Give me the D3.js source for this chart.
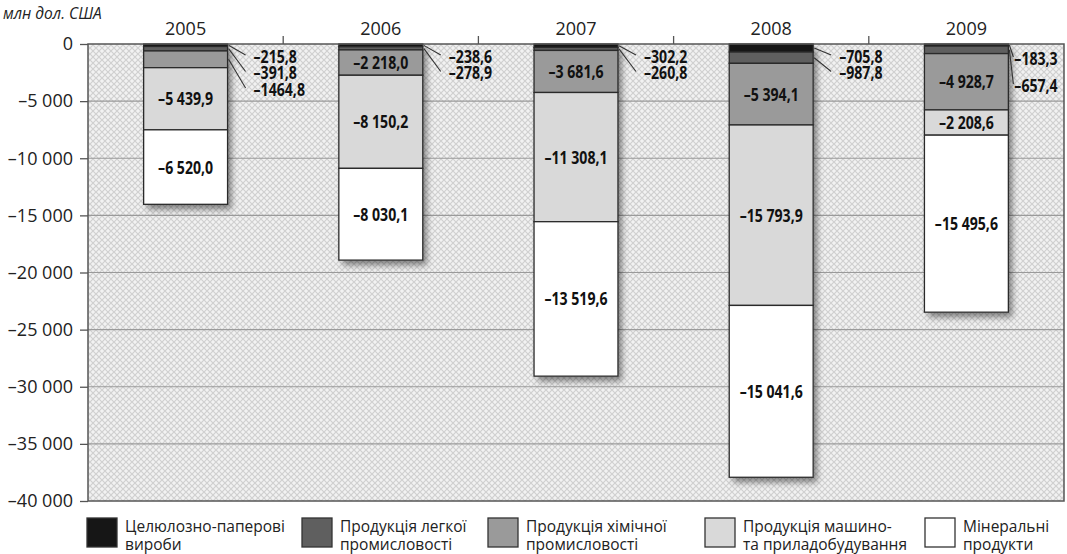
<!DOCTYPE html>
<html>
<head>
<meta charset="utf-8">
<script src="https://cdn.jsdelivr.net/npm/d3@7"></script>
<style>
  html, body { margin: 0; padding: 0; background: #fff; }
  svg { display: block; font-family: "Open Sans", "DejaVu Sans", sans-serif; }
</style>
</head>
<body>
<svg id="chart" width="1067" height="554"></svg>
<script>
// Trade balance by commodity group, mln USD
const years = ["2005", "2006", "2007", "2008", "2009"];
const pulpPaper     = [-215.8, -238.6, -302.2, -705.8, -183.3];
const lightIndustry = [-391.8, -278.9, -260.8, -987.8, -657.4];
const chemical      = [-1464.8, -2218.0, -3681.6, -5394.1, -4928.7];
const machinery     = [-5439.9, -8150.2, -11308.1, -15793.9, -2208.6];
const minerals      = [-6520.0, -8030.1, -13519.6, -15041.6, -15495.6];

const seriesKeys = ["pulpPaper", "lightIndustry", "chemical", "machinery", "minerals"];
const seriesNames = [
  ["Целюлозно-паперові", "вироби"],
  ["Продукція легкої", "промисловості"],
  ["Продукція хімічної", "промисловості"],
  ["Продукція машино-", "та приладобудування"],
  ["Мінеральні", "продукти"]
];
const yTicks = [0, -5000, -10000, -15000, -20000, -25000, -30000, -35000, -40000];
const unitLabel = "млн дол. США";

const seriesColors = ["#161616", "#5f5f5f", "#9a9a9a", "#d9d9d9", "#ffffff"];

// Build table for the stack
const table = years.map((y, i) => ({
  year: y,
  pulpPaper: pulpPaper[i],
  lightIndustry: lightIndustry[i],
  chemical: chemical[i],
  machinery: machinery[i],
  minerals: minerals[i]
}));

const svg = d3.select("#chart");
const margin = { left: 88, right: 3, top: 44, bottom: 53 };
const W = 1067, H = 554;
const plotL = margin.left, plotR = W - margin.right, plotT = margin.top, plotB = H - margin.bottom;

const x = d3.scaleBand().domain(years).range([plotL, plotR]).paddingInner(0.57).paddingOuter(0.285);
const y = d3.scaleLinear().domain([0, -40000]).range([plotT, plotB]);

const loc = d3.formatLocale({ decimal: ",", thousands: " ", grouping: [3], currency: ["", ""], minus: "\u2013" });
const fmtIn = loc.format(",.1f");
const fmtOut = loc.format(".1f");
const fmtAxis = loc.format(",d");

// Condensed bold value text: drawn at origin, then moved and narrowed
const condensed = 0.83;

// Background crosshatch
const defs = svg.append("defs");
const pat = defs.append("pattern").attr("id", "hatch").attr("patternUnits", "userSpaceOnUse")
  .attr("width", 6).attr("height", 6);
pat.append("rect").attr("width", 6).attr("height", 6).attr("fill", "#f2f2f2");
pat.append("path").attr("d", "M0,0 L6,6 M6,0 L0,6").attr("stroke", "#d0d0d0").attr("stroke-width", 1.2);

const shadow = defs.append("filter").attr("id", "shadow").attr("x", "-20%").attr("y", "-20%").attr("width", "150%").attr("height", "150%");
shadow.append("feDropShadow").attr("dx", 4).attr("dy", 5).attr("stdDeviation", 3)
  .attr("flood-color", "#000").attr("flood-opacity", 0.45);

svg.append("rect").attr("x", plotL).attr("y", plotT).attr("width", plotR - plotL).attr("height", plotB - plotT)
  .attr("fill", "url(#hatch)");

// Gridlines
svg.append("g").selectAll("line").data(yTicks.slice(1, -1)).join("line")
  .attr("x1", plotL).attr("x2", plotR)
  .attr("y1", d => y(d)).attr("y2", d => y(d))
  .attr("stroke", "#9a9a9a").attr("stroke-width", 1.2);

// Y axis
const yAxis = d3.axisLeft(y).tickValues(yTicks).tickSize(8).tickPadding(7)
  .tickFormat(d => d === 0 ? "0" : fmtAxis(d));
const gy = svg.append("g").attr("transform", `translate(${plotL},0)`).call(yAxis);
gy.select(".domain").remove();
gy.selectAll(".tick line").attr("stroke", "#555").attr("stroke-width", 1.3);
gy.selectAll(".tick text").attr("font-size", 18).attr("fill", "#222")
  .attr("font-family", "'Open Sans', sans-serif");

// Top axis with year labels; ticks sit at band boundaries
const boundaries = years.slice(1).map(yr => x(yr) - x.step() * x.paddingInner() / 2);
svg.append("g").selectAll("line").data(boundaries).join("line")
  .attr("x1", d => d).attr("x2", d => d).attr("y1", plotT - 8).attr("y2", plotT)
  .attr("stroke", "#555").attr("stroke-width", 1.3);
svg.append("g").selectAll("text").data(years).join("text")
  .attr("x", d => x(d) + x.bandwidth() / 2).attr("y", plotT - 9)
  .attr("text-anchor", "middle").attr("font-size", 18).attr("fill", "#222")
  .text(d => d);

// Stacked bars (negative values stack downward from zero)
const stack = d3.stack().keys(seriesKeys).offset(d3.stackOffsetDiverging);
const layers = stack(table);

const barsG = svg.append("g");
// Shadow under each full bar
barsG.selectAll("rect.sh").data(table).join("rect").attr("class", "sh")
  .attr("x", d => x(d.year)).attr("width", x.bandwidth())
  .attr("y", y(0))
  .attr("height", d => y(seriesKeys.reduce((s, k) => s + d[k], 0)) - y(0))
  .attr("fill", "#fff").attr("filter", "url(#shadow)");

layers.forEach((layer, li) => {
  barsG.append("g").selectAll("rect").data(layer).join("rect")
    .attr("x", d => x(d.data.year)).attr("width", x.bandwidth())
    .attr("y", d => Math.min(y(d[0]), y(d[1])))
    .attr("height", d => Math.abs(y(d[0]) - y(d[1])))
    .attr("fill", seriesColors[li])
    .attr("stroke", "#2a2a2a").attr("stroke-width", 1.3);
});

// Value labels
const labelLayout = { "2009": { dx: 6, y0: 58, step: 27 } };
const insideG = svg.append("g");
const outsideG = svg.append("g");
years.forEach((yr, i) => {
  let outIdx = 0;
  const lay = labelLayout[yr] || { dx: 26, y0: 56, step: 16.5 };
  layers.forEach((layer, li) => {
    const d = layer[i];
    const v = d.data[seriesKeys[li]];
    const top = Math.min(y(d[0]), y(d[1])), bot = Math.max(y(d[0]), y(d[1]));
    const h = bot - top;
    const cx = x(yr) + x.bandwidth() / 2;
    if (h >= 20) {
      insideG.append("text")
        .attr("transform", `translate(${cx},${(top + bot) / 2}) scale(${condensed},1)`)
        .attr("text-anchor", "middle").attr("dominant-baseline", "central")
        .attr("font-size", 17).attr("font-weight", "bold").attr("fill", "#111")
        .text(fmtIn(v));
    } else {
      const right = x(yr) + x.bandwidth();
      const lx = right + lay.dx;
      const ly = lay.y0 + lay.step * outIdx;
      outsideG.append("line")
        .attr("x1", right + 1).attr("y1", (top + bot) / 2)
        .attr("x2", lx - (lay.dx > 10 ? 8 : 1)).attr("y2", ly - 1)
        .attr("stroke", "#333").attr("stroke-width", 1.1);
      outsideG.append("text")
        .attr("transform", `translate(${lx},${ly}) scale(${condensed},1)`)
        .attr("dominant-baseline", "central")
        .attr("font-size", 17).attr("font-weight", "bold").attr("fill", "#111")
        .text(fmtOut(v));
      outIdx++;
    }
  });
});

// Plot border
svg.append("rect").attr("x", plotL).attr("y", plotT).attr("width", plotR - plotL).attr("height", plotB - plotT)
  .attr("fill", "none").attr("stroke", "#555").attr("stroke-width", 1.5);

// Unit label
svg.append("text").attr("x", 3).attr("y", 19).attr("font-size", 15.5).attr("font-style", "italic")
  .attr("fill", "#222").text(unitLabel);

// Legend
const legendX = [87, 302, 488, 705, 925];
const legG = svg.append("g");
seriesNames.forEach((lines, i) => {
  const g = legG.append("g").attr("transform", `translate(${legendX[i]},518)`);
  g.append("rect").attr("width", 30).attr("height", 29)
    .attr("fill", seriesColors[i]).attr("stroke", "#333").attr("stroke-width", 1.3);
  lines.forEach((ln, j) => {
    g.append("text").attr("x", 38).attr("y", 8 + j * 18).attr("dominant-baseline", "central")
      .attr("font-size", 15.5).attr("fill", "#222").text(ln);
  });
});
</script>
</body>
</html>
